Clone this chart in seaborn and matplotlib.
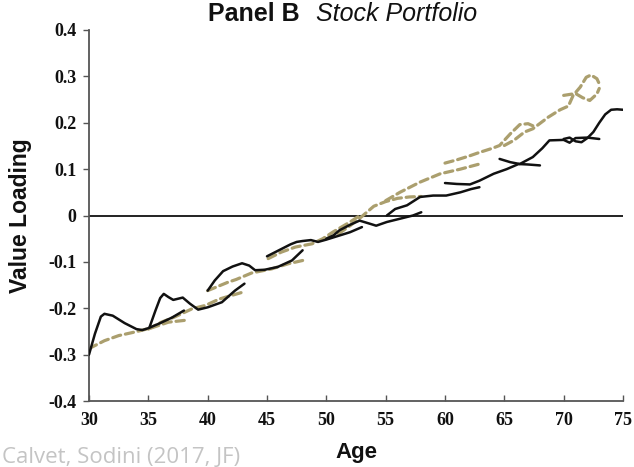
import matplotlib
matplotlib.use("Agg")
import matplotlib.pyplot as plt
import pandas as pd
import seaborn as sns

# ---- solid lines: estimated value loading, one segment per cohort ----
solid_30_age = [30, 30.5, 31, 31.3, 32, 33, 34, 34.5, 35, 36, 37, 38]
solid_30_val = [-0.300, -0.255, -0.218, -0.212, -0.216, -0.232, -0.245, -0.247, -0.243, -0.232, -0.220, -0.205]

solid_35_age = [35.1, 35.6, 36.0, 36.3, 36.7, 37.1, 37.9, 38.5, 39.2, 40.0, 41.2, 42.3, 43.1]
solid_35_val = [-0.241, -0.205, -0.178, -0.169, -0.176, -0.182, -0.177, -0.190, -0.203, -0.198, -0.187, -0.162, -0.147]

solid_40_age = [40.0, 40.6, 41.3, 42.1, 42.9, 43.5, 44.0, 44.8, 45.9, 47.1, 48.0]
solid_40_val = [-0.162, -0.140, -0.120, -0.110, -0.103, -0.108, -0.118, -0.117, -0.111, -0.097, -0.075]

solid_45_age = [45, 46, 47, 47.5, 48, 48.7, 49.3, 50, 51, 52, 53]
solid_45_val = [-0.088, -0.075, -0.062, -0.057, -0.055, -0.053, -0.057, -0.052, -0.044, -0.036, -0.025]

solid_50_age = [50, 50.6, 51.1, 52, 52.8, 53.7, 54.2, 55.1, 56.2, 57.3, 58]
solid_50_val = [-0.050, -0.043, -0.032, -0.020, -0.011, -0.018, -0.022, -0.014, -0.007, 0.000, 0.007]

solid_55_age = [55.1, 55.8, 56.8, 57.9, 59.0, 60.1, 61.3, 62.2, 62.9]
solid_55_val = [0.000, 0.014, 0.022, 0.040, 0.043, 0.043, 0.050, 0.057, 0.061]

solid_60_age = [60, 61, 62.1, 62.9, 64.1, 65.2, 66.2, 67, 68]
solid_60_val = [0.070, 0.068, 0.067, 0.075, 0.090, 0.100, 0.111, 0.110, 0.108]

solid_65_age = [64.6, 65.5, 66.3, 67.4, 68.2, 68.8, 70, 70.5, 71, 72, 73]
solid_65_val = [0.122, 0.115, 0.111, 0.126, 0.145, 0.162, 0.163, 0.157, 0.167, 0.168, 0.165]

solid_70_age = [70, 70.5, 71, 71.5, 72, 72.5, 73, 73.5, 74, 74.5, 75]
solid_70_val = [0.165, 0.168, 0.160, 0.158, 0.167, 0.180, 0.200, 0.218, 0.228, 0.229, 0.228]

# ---- dashed lines: second estimate, one segment per cohort ----
dash_30_age = [30, 31.3, 32.5, 33.9, 35.3, 36.7, 38.1]
dash_30_val = [-0.287, -0.270, -0.259, -0.251, -0.242, -0.230, -0.226]

dash_35_age = [35, 36.1, 37.2, 38.7, 39.8, 41, 43]
dash_35_val = [-0.245, -0.230, -0.219, -0.201, -0.194, -0.180, -0.165]

dash_40_age = [40, 41.7, 42.4, 43.7, 45.4, 46.8, 48]
dash_40_val = [-0.162, -0.144, -0.138, -0.124, -0.115, -0.104, -0.097]

dash_45_age = [45.1, 46.2, 47.4, 48.8, 49.7, 50.6, 52, 53]
dash_45_val = [-0.093, -0.079, -0.068, -0.061, -0.050, -0.035, -0.014, 0.003]

dash_50_age = [50, 51, 52, 53, 54, 55, 56, 57, 58]
dash_50_val = [-0.050, -0.040, -0.022, -0.002, 0.020, 0.030, 0.037, 0.040, 0.041]

dash_55_age = [55, 56.2, 57.9, 59.6, 61.3, 62.9]
dash_55_val = [0.032, 0.050, 0.072, 0.090, 0.100, 0.111]

dash_60_age = [60, 61, 62, 62.9, 64, 64.6, 65.5, 66.3, 67, 67.7]
dash_60_val = [0.113, 0.120, 0.128, 0.136, 0.145, 0.151, 0.176, 0.196, 0.198, 0.190]

dash_65_age = [65, 65.8, 66.7, 67.4, 68.7, 69.7, 70.4, 70.8, 71.4, 71.9, 72.3, 72.8, 73]
dash_65_val = [0.151, 0.162, 0.180, 0.187, 0.212, 0.228, 0.236, 0.259, 0.277, 0.298, 0.303, 0.295, 0.284]

dash_70_age = [70, 71, 71.6, 72.2, 72.8, 73]
dash_70_val = [0.259, 0.263, 0.254, 0.248, 0.262, 0.274]

x_ticks = [30, 35, 40, 45, 50, 55, 60, 65, 70, 75]
y_ticks = [-0.4, -0.3, -0.2, -0.1, 0.0, 0.1, 0.2, 0.3, 0.4]
y_tick_labels = ["-0.4", "-0.3", "-0.2", "-0.1", "0", "0.1", "0.2", "0.3", "0.4"]


def segments(pairs):
    frames = []
    for cohort, (ages, vals) in enumerate(pairs):
        frames.append(pd.DataFrame({"age": ages, "value": vals, "cohort": cohort}))
    return pd.concat(frames, ignore_index=True)


solid = segments([
    (solid_30_age, solid_30_val), (solid_35_age, solid_35_val), (solid_40_age, solid_40_val),
    (solid_45_age, solid_45_val), (solid_50_age, solid_50_val), (solid_55_age, solid_55_val),
    (solid_60_age, solid_60_val), (solid_65_age, solid_65_val), (solid_70_age, solid_70_val),
])
dashed = segments([
    (dash_30_age, dash_30_val), (dash_35_age, dash_35_val), (dash_40_age, dash_40_val),
    (dash_45_age, dash_45_val), (dash_50_age, dash_50_val), (dash_55_age, dash_55_val),
    (dash_60_age, dash_60_val), (dash_65_age, dash_65_val), (dash_70_age, dash_70_val),
])

sns.set_theme(style="white")
plt.rcParams["font.family"] = ["Liberation Sans", "DejaVu Sans"]

fig = plt.figure(figsize=(6.34, 4.67), dpi=100)
ax = fig.add_axes([89 / 634, 1 - 401 / 467, (623 - 89) / 634, (401 - 30) / 467])

ax.axhline(0, color="#111111", lw=1.3, zorder=1)

sns.lineplot(data=dashed, x="age", y="value", units="cohort", estimator=None,
             color="#ab9f6e", lw=2.3, linestyle=(0, (2.6, 1.5)),
             dash_capstyle="round", ax=ax, legend=False, zorder=2)
sns.lineplot(data=solid, x="age", y="value", units="cohort", estimator=None,
             color="#111111", lw=1.8, solid_joinstyle="round",
             solid_capstyle="round", ax=ax, legend=False, zorder=3)

ax.set_xlim(30, 75)
ax.set_ylim(-0.4, 0.4)
ax.set_xticks(x_ticks)
ax.set_yticks(y_ticks)
ax.set_yticklabels(y_tick_labels)

for lab in ax.get_xticklabels() + ax.get_yticklabels():
    lab.set_fontfamily("Liberation Serif")
    lab.set_fontweight("bold")
    lab.set_fontsize(13)
    lab.set_color("#111111")

ax.tick_params(axis="y", direction="out", length=4, width=1, color="#555555", pad=5, left=True)
ax.tick_params(axis="x", direction="in", length=4, width=1, color="#555555", pad=8, bottom=True)

for side in ["top", "right"]:
    ax.spines[side].set_visible(False)
for side in ["left", "bottom"]:
    ax.spines[side].set_color("#555555")
    ax.spines[side].set_linewidth(1.3)

ax.set_xlabel("Age", fontsize=16, fontweight="bold", color="#111111", labelpad=9)
ax.set_ylabel("Value Loading", fontsize=16.5, fontweight="bold", color="#111111", labelpad=12)

fig.text(300 / 634, 1 - 21 / 467, "Panel B", fontsize=18, fontweight="bold",
         ha="right", va="baseline", color="#111111")
fig.text(316 / 634, 1 - 21 / 467, "Stock Portfolio", fontsize=18, style="italic",
         ha="left", va="baseline", color="#111111")

fig.text(0.003, 1 - 463 / 467, "Calvet, Sodini (2017, JF)", fontsize=16, color="#c4c4c4",
         family=["Open Sans", "DejaVu Sans"], ha="left", va="baseline")

fig.savefig("out.png", dpi=100)
